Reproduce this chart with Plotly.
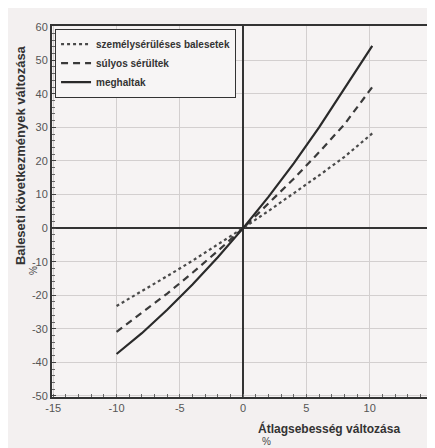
import plotly.graph_objects as go

speed_change = [-10, -8, -6, -4, -2, 0, 2, 4, 6, 8, 10.2]
injury_accidents = [-23.2, -18.8, -14.3, -9.7, -4.9, 0, 5.1, 10.3, 15.7, 21.2, 28.2]
serious_injuries = [-30.9, -25.3, -19.5, -13.3, -6.8, 0, 7.2, 14.7, 22.6, 30.9, 42.0]
fatalities = [-37.5, -31.3, -24.3, -16.8, -8.7, 0, 9.3, 19.3, 30.0, 41.4, 54.3]

series_names = ["személysérüléses balesetek", "súlyos sérültek", "meghaltak"]
x_ticks = [-15, -10, -5, 0, 5, 10, 15]
y_ticks = [-50, -40, -30, -20, -10, 0, 10, 20, 30, 40, 50, 60]

fig = go.Figure()
fig.add_trace(go.Scatter(x=speed_change, y=injury_accidents, mode="lines", name="<b>" + series_names[0] + "</b>",
                         line=dict(color="#4a4a4a", width=2.2, dash="dot")))
fig.add_trace(go.Scatter(x=speed_change, y=serious_injuries, mode="lines", name="<b>" + series_names[1] + "</b>",
                         line=dict(color="#3a3a3a", width=2.2, dash="7px,5px")))
fig.add_trace(go.Scatter(x=speed_change, y=fatalities, mode="lines", name="<b>" + series_names[2] + "</b>",
                         line=dict(color="#2a2a2a", width=2.2)))

fig.update_layout(
    width=427, height=440,
    margin=dict(l=44, r=0, t=18, b=51),
    paper_bgcolor="#f3f0f0",
    plot_bgcolor="#f6f3f3",
    font=dict(family="Liberation Sans, Arial", color="#444"),
    legend=dict(x=0.008, y=0.993, xanchor="left", yanchor="top",
                bgcolor="#f7f5f5", bordercolor="#333", borderwidth=1,
                font=dict(size=10, color="#333", family="Liberation Sans, Arial"),
                tracegroupgap=0, itemwidth=30),
    showlegend=True,
)
fig.update_xaxes(range=[-15.1, 15], tickvals=x_ticks, ticktext=[str(v) for v in x_ticks],
                 showgrid=True, gridcolor="#d3cfcf", gridwidth=1,
                 zeroline=True, zerolinecolor="#333", zerolinewidth=2,
                 showline=True, linecolor="#333", linewidth=2, mirror=True,
                 ticks="", tickfont=dict(size=11, color="#555"),
                 minor=dict(dtick=1, ticks="inside", ticklen=3, tickcolor="#666", showgrid=False))
fig.update_yaxes(range=[-50.3, 60.2], tickvals=y_ticks, ticktext=[str(v) for v in y_ticks],
                 showgrid=True, gridcolor="#d3cfcf", gridwidth=1,
                 zeroline=True, zerolinecolor="#333", zerolinewidth=2,
                 showline=True, linecolor="#333", linewidth=2, mirror=True,
                 ticks="inside", ticklen=4, tickcolor="#444",
                 tickfont=dict(size=11, color="#555"),
                 minor=dict(dtick=2, ticks="inside", ticklen=3, tickcolor="#666", showgrid=False))

fig.add_annotation(text="<b>Baleseti következmények változása</b>", xref="paper", yref="paper",
                   x=-0.084, y=0.652, textangle=-90, showarrow=False,
                   font=dict(size=13, color="#333"), xanchor="center", yanchor="middle")
fig.add_annotation(text="%", xref="paper", yref="paper", x=-0.05, y=0.342, textangle=-90,
                   showarrow=False, font=dict(size=10, color="#444"), xanchor="center", yanchor="middle")
fig.add_annotation(text="<b>Átlagsebesség változása</b>", xref="paper", yref="paper",
                   x=0.535, y=-0.084, xanchor="left", yanchor="middle", showarrow=False,
                   font=dict(size=12, color="#333"))
fig.add_annotation(text="%", xref="paper", yref="paper",
                   x=0.545, y=-0.119, xanchor="left", yanchor="middle", showarrow=False,
                   font=dict(size=10, color="#444"))

fig.write_html("out.html")
